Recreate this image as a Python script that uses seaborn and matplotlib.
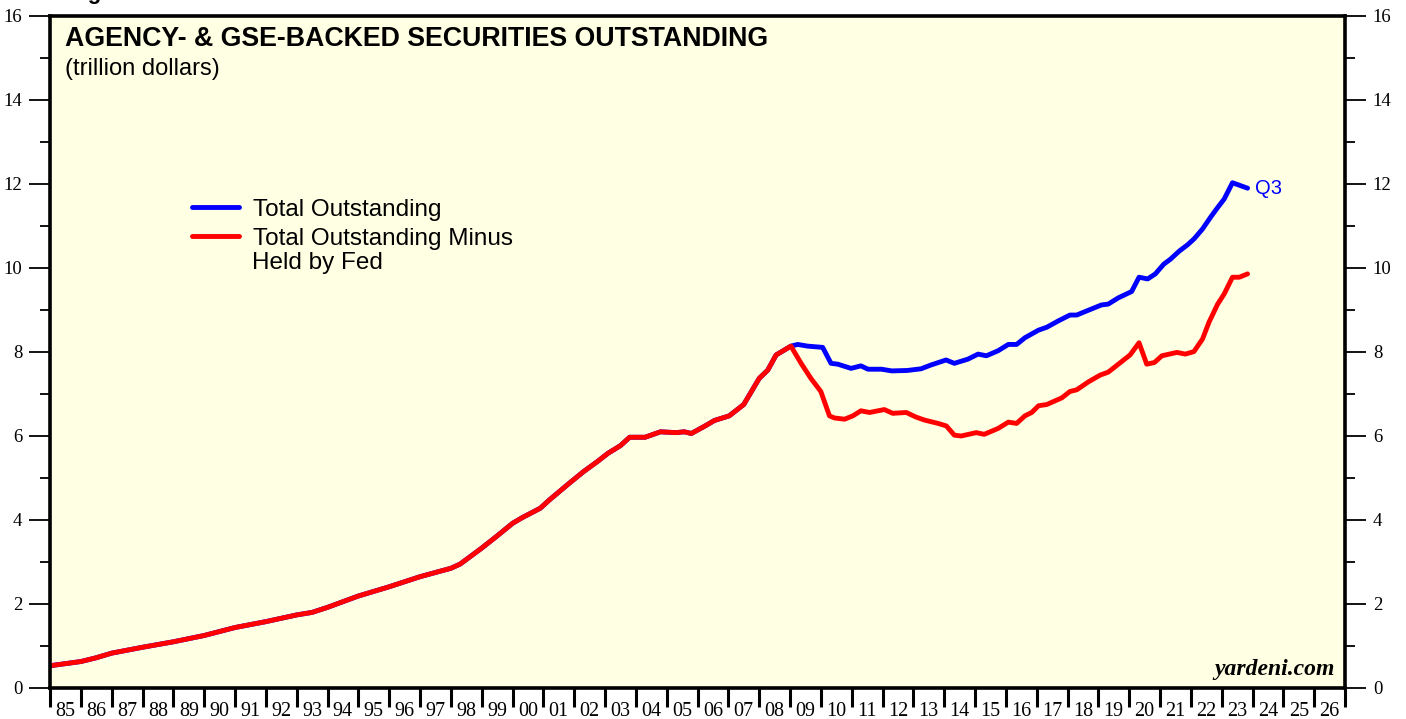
import numpy as np
import pandas as pd
import seaborn as sns
import matplotlib.pyplot as plt
from matplotlib.ticker import MultipleLocator, FixedLocator, NullFormatter

sns.set_style("white")
plt.rcParams['font.family'] = ['Liberation Sans', 'DejaVu Sans']
plt.rcParams['text.color'] = 'black'
plt.rcParams['xtick.color'] = 'black'
plt.rcParams['ytick.color'] = 'black'

# shared history (both series identical before the Fed's MBS buying)
early_dates = [1985.0, 1986.0, 1986.5, 1987.0, 1988.0, 1989.0, 1990.0, 1991.0,
               1992.0, 1993.0, 1993.5, 1994.0, 1995.0, 1996.0, 1997.0, 1998.0,
               1998.3, 1999.0, 1999.5, 2000.0, 2000.3, 2000.9, 2001.2, 2001.8,
               2002.3, 2002.75, 2003.1, 2003.5, 2003.8, 2004.3, 2004.8, 2005.3,
               2005.57, 2005.8, 2006.2, 2006.55, 2007.03, 2007.5, 2008.0,
               2008.28, 2008.55, 2009.03]
early_vals = [0.53, 0.63, 0.72, 0.83, 0.97, 1.10, 1.25, 1.44,
              1.58, 1.74, 1.80, 1.92, 2.19, 2.41, 2.65, 2.85,
              2.95, 3.33, 3.62, 3.92, 4.05, 4.28, 4.48, 4.85,
              5.15, 5.39, 5.59, 5.77, 5.97, 5.97, 6.10, 6.08,
              6.10, 6.06, 6.22, 6.37, 6.48, 6.75, 7.37,
              7.57, 7.93, 8.14]

total_dates = [2009.25, 2009.57, 2010.06, 2010.33, 2010.55, 2010.98, 2011.3,
               2011.53, 2011.97, 2012.3, 2012.8, 2013.25, 2013.57, 2014.06,
               2014.33, 2014.77, 2015.1, 2015.37, 2015.75, 2016.08, 2016.35,
               2016.62, 2017.06, 2017.33, 2017.7, 2018.08, 2018.3, 2018.63,
               2019.1, 2019.32, 2019.65, 2020.08, 2020.32, 2020.6, 2020.85,
               2021.12, 2021.34, 2021.62, 2021.89, 2022.1, 2022.38, 2022.65,
               2022.87, 2023.08, 2023.35, 2023.84]
total_vals = [8.18, 8.14, 8.11, 7.73, 7.71, 7.61, 7.67,
              7.59, 7.59, 7.55, 7.56, 7.60, 7.69, 7.81,
              7.73, 7.83, 7.95, 7.91, 8.03, 8.18, 8.18,
              8.34, 8.52, 8.59, 8.74, 8.88, 8.88, 8.98,
              9.12, 9.14, 9.29, 9.44, 9.78, 9.74, 9.86,
              10.09, 10.21, 10.40, 10.55, 10.69, 10.93, 11.22,
              11.44, 11.64, 12.03, 11.90]

net_dates = [2009.36, 2009.68, 2010.0, 2010.28, 2010.44, 2010.77, 2011.04,
             2011.3, 2011.58, 2012.06, 2012.33, 2012.77, 2013.09, 2013.36,
             2013.8, 2014.07, 2014.33, 2014.55, 2015.04, 2015.3, 2015.75,
             2016.08, 2016.35, 2016.62, 2016.84, 2017.06, 2017.33, 2017.82,
             2018.08, 2018.3, 2018.68, 2019.06, 2019.32, 2019.65, 2020.03,
             2020.32, 2020.57, 2020.82, 2021.06, 2021.55, 2021.82, 2022.1,
             2022.38, 2022.59, 2022.87, 2023.08, 2023.35, 2023.57, 2023.84]
net_vals = [7.73, 7.37, 7.06, 6.48, 6.43, 6.40, 6.48,
            6.60, 6.56, 6.63, 6.54, 6.56, 6.45, 6.38,
            6.30, 6.24, 6.02, 6.00, 6.08, 6.04, 6.18,
            6.33, 6.30, 6.48, 6.56, 6.72, 6.75, 6.91,
            7.06, 7.10, 7.29, 7.45, 7.52, 7.71, 7.93,
            8.22, 7.71, 7.75, 7.91, 7.99, 7.95, 8.01,
            8.31, 8.71, 9.14, 9.38, 9.78, 9.78, 9.86]

TOTAL = 'Total Outstanding'
NET = 'Total Outstanding Minus'

df = pd.concat([
    pd.DataFrame({'date': early_dates + total_dates,
                  'value': early_vals + total_vals, 'series': TOTAL}),
    pd.DataFrame({'date': early_dates + net_dates,
                  'value': early_vals + net_vals, 'series': NET}),
])

fig = plt.figure(figsize=(14.06, 7.19), dpi=100)
ax = fig.add_axes([50 / 1406, 31 / 719, 1295 / 1406, 672 / 719])
ax.set_facecolor('#FFFFE3')

sns.lineplot(data=df, x='date', y='value', hue='series', hue_order=[TOTAL, NET],
             palette={TOTAL: '#0000FF', NET: '#FF0000'}, estimator=None,
             sort=False, linewidth=3.5, ax=ax)

ax.set_xlim(1985, 2027)
ax.set_ylim(0, 16)
ax.set_xlabel('')
ax.set_ylabel('')

for s in ax.spines.values():
    s.set_linewidth(2.6)
    s.set_color('black')

# x axis: tick marks at year boundaries, labels centred in between
ax.xaxis.set_major_locator(FixedLocator(np.arange(1985, 2028)))
ax.xaxis.set_major_formatter(NullFormatter())
mid = np.arange(1985, 2027) + 0.5
ax.xaxis.set_minor_locator(FixedLocator(mid))
ax.set_xticklabels([f'{int(y) % 100:02d}' for y in mid], minor=True)
ax.tick_params(axis='x', which='major', direction='out', length=14, width=2.2,
               bottom=True)
ax.tick_params(axis='x', which='minor', length=0, pad=10, labelsize=14.5,
               labelfontfamily='Liberation Serif', bottom=True)

ax.yaxis.set_major_locator(MultipleLocator(2))
ax.yaxis.set_minor_locator(MultipleLocator(1))
ax.tick_params(axis='y', which='both', direction='out', left=True, right=True,
               labelleft=True, labelright=True)
ax.tick_params(axis='y', which='major', length=15, width=1.3, pad=5,
               labelsize=13.5, labelfontfamily='Liberation Serif')
ax.tick_params(axis='y', which='minor', length=7, width=1.3)

ax.text(0.0116, 0.985, 'AGENCY- & GSE-BACKED SECURITIES OUTSTANDING',
        transform=ax.transAxes, ha='left', va='top', fontsize=19.3,
        fontweight='bold')
ax.text(0.0116, 0.9375, '(trillion dollars)', transform=ax.transAxes,
        ha='left', va='top', fontsize=17)

leg = ax.legend(loc='upper left', bbox_to_anchor=(0.1095, 0.7277), frameon=False,
                fontsize=17.5, handlelength=1.95, handletextpad=0.58,
                labelspacing=0.27, borderaxespad=0, borderpad=0)
for line in leg.get_lines():
    line.set_linewidth(3.5)
ax.text((252 - 50) / 1295, (688 - 263) / 672, 'Held by Fed',
        transform=ax.transAxes, ha='left', va='center', fontsize=17.5)

ax.annotate('Q3', xy=(total_dates[-1], total_vals[-1]), xytext=(5, 0),
            textcoords='offset points', ha='left', va='center',
            color='#0000FF', fontsize=14.5)

ax.text(0.992, 0.012, 'yardeni.com', transform=ax.transAxes, ha='right',
        va='bottom', fontsize=17, fontweight='bold', fontstyle='italic',
        family='Liberation Serif')

fig.text(68 / 1406, 1 + 1 / 719, 'Figure 7.', ha='left', va='baseline',
         fontsize=16, fontweight='bold')

fig.savefig('out.png', dpi=100, facecolor='white')
